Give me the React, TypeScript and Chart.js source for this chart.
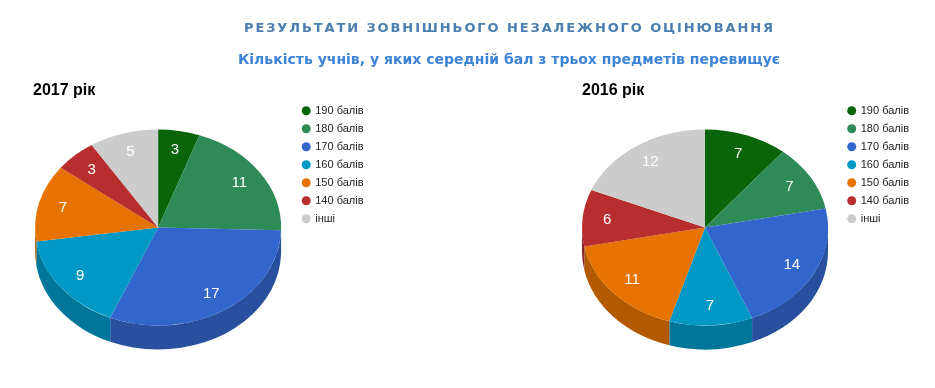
import React, { useEffect, useRef } from "react";
import { Chart, registerables } from "chart.js";

Chart.register(...registerables);

const mainTitle = "РЕЗУЛЬТАТИ ЗОВНІШНЬОГО НЕЗАЛЕЖНОГО ОЦІНЮВАННЯ";
const subTitle = "Кількість учнів, у яких середній бал з трьох предметів перевищує";
const categories = ["190 балів", "180 балів", "170 балів", "160 балів", "150 балів", "140 балів", "інші"];
const values2017 = [3, 11, 17, 9, 7, 3, 5];
const values2016 = [7, 7, 14, 7, 11, 6, 12];
const sliceColors = ["#0a640a", "#2e8b57", "#3366cc", "#0099c6", "#e67300", "#b82e2e", "#cccccc"];

const TILT = 0.797;
const DEPTH = 24;

function darken(hex: string, f: number) {
  const n = parseInt(hex.slice(1), 16);
  const r = Math.round(((n >> 16) & 255) * f);
  const g = Math.round(((n >> 8) & 255) * f);
  const b = Math.round((n & 255) * f);
  return `rgb(${r},${g},${b})`;
}

const pie3d = {
  id: "pie3d",
  beforeDatasetsDraw(chart: any) {
    const meta = chart.getDatasetMeta(0);
    const arcs = meta.data;
    const ctx = chart.ctx;
    ctx.save();
    if (!arcs.length) return;
    const cx = arcs[0].x;
    const cy = arcs[0].y;
    const r = arcs[0].outerRadius;
    const ry = r * TILT;
    const colors = chart.data.datasets[0].backgroundColor;
    arcs.forEach((arc: any, i: number) => {
      const s = Math.max(arc.startAngle, 0);
      const e = Math.min(arc.endAngle, Math.PI);
      if (e <= s) return;
      ctx.beginPath();
      ctx.ellipse(cx, cy, r, ry, 0, s, e);
      ctx.ellipse(cx, cy + DEPTH, r, ry, 0, e, s, true);
      ctx.closePath();
      ctx.fillStyle = darken(colors[i], 0.78);
      ctx.fill();
    });
    ctx.translate(cx, cy);
    ctx.scale(1, TILT);
    ctx.translate(-cx, -cy);
  },
  afterDatasetsDraw(chart: any) {
    const ctx = chart.ctx;
    ctx.restore();
    const meta = chart.getDatasetMeta(0);
    const data = chart.data.datasets[0].data;
    ctx.save();
    ctx.fillStyle = "#ffffff";
    ctx.font = "15px Arial, 'Liberation Sans', sans-serif";
    ctx.textAlign = "center";
    ctx.textBaseline = "middle";
    meta.data.forEach((arc: any, i: number) => {
      const mid = (arc.startAngle + arc.endAngle) / 2;
      const lr = arc.outerRadius * 0.8;
      const x = arc.x + Math.cos(mid) * lr;
      const y = arc.y + Math.sin(mid) * lr * TILT;
      ctx.fillText(String(data[i]), x, y);
    });
    ctx.restore();
  },
};

function PieChart({ values, padding, width }: { values: number[]; padding: any; width: number }) {
  const ref = useRef<HTMLCanvasElement | null>(null);
  useEffect(() => {
    if (!ref.current) return;
    const chart = new Chart(ref.current, {
      type: "pie",
      data: {
        labels: categories,
        datasets: [
          {
            data: values,
            backgroundColor: sliceColors,
            borderWidth: 0,
            hoverOffset: 0,
            radius: 123,
          } as any,
        ],
      },
      options: {
        responsive: false,
        animation: false,
        events: [],
        layout: { padding },
        plugins: {
          legend: {
            position: "right",
            align: "start",
            labels: {
              usePointStyle: true,
              pointStyle: "circle",
              boxWidth: 7,
              boxHeight: 6.36,
              padding: 7,
              color: "#222222",
              font: { family: "Arial, 'Liberation Sans', sans-serif", size: 11 },
            },
          },
          tooltip: { enabled: false },
        },
      } as any,
      plugins: [pie3d],
    });
    return () => chart.destroy();
  }, []);
  return <canvas ref={ref} width={width} height={388} style={{ width, height: 388, display: "block" }} />;
}

export default function App() {
  return (
    <div style={{ position: "absolute", left: 0, top: 0, width: 935, height: 388, background: "#fff", overflow: "hidden" }}>
      <div style={{ position: "absolute", left: 467, top: 0 }}>
        <PieChart values={values2016} width={468} padding={{ left: 101.8, right: 16, top: 98.2, bottom: 31.2 }} />
      </div>
      <div style={{ position: "absolute", left: 0, top: 0 }}>
        <PieChart values={values2017} width={467} padding={{ left: 20.5, right: 93.5, top: 98.2, bottom: 31.2 }} />
      </div>
      <div
        style={{
          position: "absolute",
          left: 0,
          width: 1019,
          top: 21,
          textAlign: "center",
          font: "bold 13px 'DejaVu Sans', Verdana, sans-serif",
          lineHeight: "13px",
          letterSpacing: "1.9px",
          color: "#4a7eb0",
          whiteSpace: "nowrap",
        }}
      >
        {mainTitle}
      </div>
      <div
        style={{
          position: "absolute",
          left: 0,
          width: 1018,
          top: 52,
          textAlign: "center",
          font: "bold 14px 'DejaVu Sans', Verdana, sans-serif",
          lineHeight: "14px",
          color: "#3d84d6",
          whiteSpace: "nowrap",
        }}
      >
        {subTitle}
      </div>
      <div style={{ position: "absolute", left: 33, top: 82, font: "bold 16px Arial, 'Liberation Sans', sans-serif", lineHeight: "16px", color: "#000" }}>
        2017 рік
      </div>
      <div style={{ position: "absolute", left: 582, top: 82, font: "bold 16px Arial, 'Liberation Sans', sans-serif", lineHeight: "16px", color: "#000" }}>
        2016 рік
      </div>
    </div>
  );
}
